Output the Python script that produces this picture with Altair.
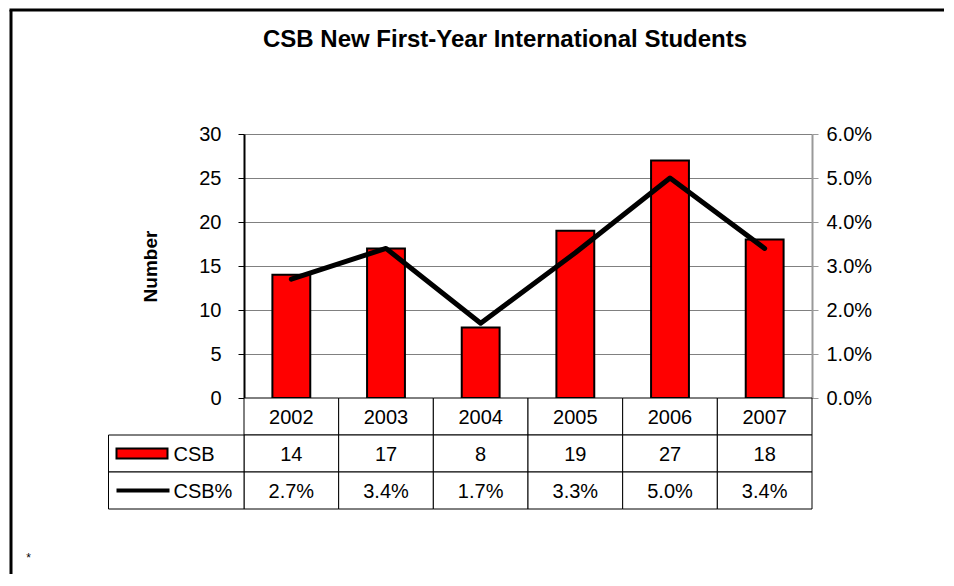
import altair as alt
import pandas as pd

# ---- data ----
years = ["2002", "2003", "2004", "2005", "2006", "2007"]
csb = [14, 17, 8, 19, 27, 18]
csb_pct = [0.027, 0.034, 0.017, 0.033, 0.050, 0.034]
left_ticks = [0, 5, 10, 15, 20, 25, 30]
right_ticks = [0.0, 0.01, 0.02, 0.03, 0.04, 0.05, 0.06]
row_names = ["year", "CSB", "CSB%"]
legend_rows = ["CSB", "CSB%"]
title_text = "CSB New First-Year International Students"
y_title = "Number"

FONT = "Liberation Sans"
W, H, TH = 568, 264, 111

df = pd.DataFrame({"year": years, "csb": csb, "pct": csb_pct})

xband = alt.Scale(domain=years, paddingInner=0.6, paddingOuter=0.3)

bars = alt.Chart(df).mark_bar(color="#FF0000", stroke="black", strokeWidth=2).encode(
    x=alt.X("year:N", scale=xband, axis=None),
    y=alt.Y("csb:Q", scale=alt.Scale(domain=[0, 30], nice=False),
            axis=alt.Axis(values=left_ticks, orient="left", title=y_title,
                          grid=True, gridColor="#808080", gridWidth=1,
                          domainColor="black", domainWidth=2,
                          tickColor="black", tickSize=6, tickWidth=1,
                          labelFont=FONT, labelFontSize=20, labelColor="black",
                          labelPadding=17,
                          titleFont=FONT, titleFontSize=19, titleFontWeight="bold",
                          titleColor="black", titlePadding=38)),
)

line = alt.Chart(df).mark_line(color="black", strokeWidth=5, strokeCap="round",
                               strokeJoin="round").encode(
    x=alt.X("year:N", scale=xband, axis=None),
    y=alt.Y("pct:Q", scale=alt.Scale(domain=[0, 0.06], nice=False),
            axis=alt.Axis(values=right_ticks, orient="right", format=".1%", title=None,
                          grid=False, domainColor="#999999", domainWidth=2,
                          tickColor="#999999", tickSize=6, tickWidth=1,
                          labelFont=FONT, labelFontSize=20, labelColor="black",
                          labelPadding=8)),
)

top = alt.layer(bars, line).resolve_scale(y="independent").properties(
    width=W, height=H,
    title=alt.TitleParams(text=title_text, font=FONT, fontSize=24, fontWeight="bold",
                          color="black", anchor="middle", frame="group", dx=-23,
                          offset=48, baseline="bottom"),
)

# ---- data table ----
trows = []
for yv, c, p in zip(years, csb, csb_pct):
    trows.append({"year": yv, "row": "year", "label": yv})
    trows.append({"year": yv, "row": "CSB", "label": str(c)})
    trows.append({"year": yv, "row": "CSB%", "label": f"{p * 100:.1f}%"})
tdf = pd.DataFrame(trows)
ldf = pd.DataFrame({"row": legend_rows})

tx = alt.Scale(domain=years, paddingInner=0, paddingOuter=0)
ty = alt.Scale(domain=row_names, paddingInner=0, paddingOuter=0)

cells = alt.Chart(tdf).mark_rect(fill="white", stroke="black", strokeWidth=1).encode(
    x=alt.X("year:N", scale=tx, axis=None),
    y=alt.Y("row:N", scale=ty, axis=None),
)
values_txt = alt.Chart(tdf).mark_text(font=FONT, fontSize=20, color="black",
                                      align="center", baseline="middle", dy=1).encode(
    x=alt.X("year:N", scale=tx, axis=None),
    y=alt.Y("row:N", scale=ty, axis=None),
    text="label:N",
)
lcells = alt.Chart(ldf).mark_rect(fill="white", stroke="black", strokeWidth=1).encode(
    x=alt.value(-135.5), x2=alt.value(0),
    y=alt.Y("row:N", scale=ty, axis=None),
)
red_sym = alt.Chart(ldf).transform_filter(alt.datum.row == "CSB").mark_point(
    shape="M-1,-0.2L1,-0.2L1,0.2L-1,0.2Z", size=2601, filled=True, fill="#FF0000",
    stroke="black", strokeWidth=2, opacity=1).encode(
    x=alt.value(-102), y=alt.Y("row:N", scale=ty, axis=None),
)
line_sym = alt.Chart(ldf).transform_filter(alt.datum.row == "CSB%").mark_point(
    shape="M-1,0L1,0", size=2809, filled=False, stroke="black", strokeWidth=4,
    opacity=1).encode(
    x=alt.value(-101), y=alt.Y("row:N", scale=ty, axis=None),
)
legend_txt = alt.Chart(ldf).mark_text(font=FONT, fontSize=20, color="black",
                                      align="left", baseline="middle", dy=1).encode(
    x=alt.value(-70.5), y=alt.Y("row:N", scale=ty, axis=None), text="row:N",
)

one = alt.Data(values=[{"k": 1}])
frame_left = alt.Chart(one).mark_rule(color="black", strokeWidth=3).encode(
    x=alt.value(-233), y=alt.value(-388), y2=alt.value(176))
frame_top = alt.Chart(one).mark_rule(color="black", strokeWidth=3).encode(
    x=alt.value(-234.5), x2=alt.value(700), y=alt.value(-388))
star = alt.Chart(one).mark_text(text="*", font=FONT, fontSize=12, color="black").encode(
    x=alt.value(-215.5), y=alt.value(160))

table = alt.layer(cells, lcells, red_sym, line_sym, legend_txt, values_txt,
                  frame_left, frame_top, star).properties(width=W, height=TH)

chart = (
    alt.vconcat(top, table, spacing=0, bounds="flush")
    .resolve_scale(x="independent", y="independent")
    .properties(padding=0, background="white")
    .configure_view(strokeWidth=0)
)

chart.save("out.html", embed_options={"renderer": "svg", "actions": False})
